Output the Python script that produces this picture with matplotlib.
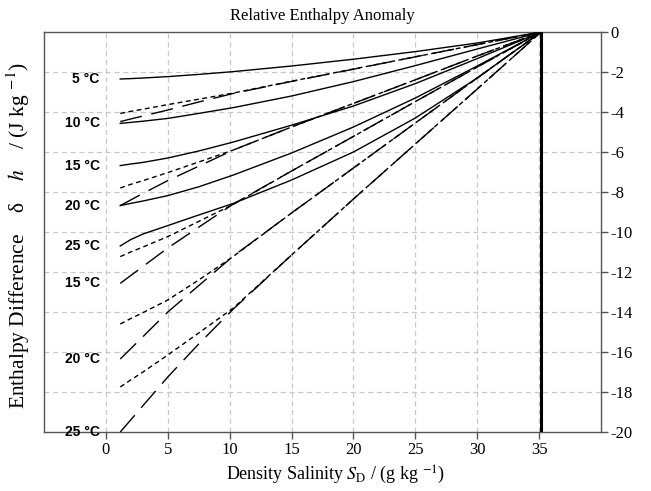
import matplotlib
matplotlib.use("Agg")
import matplotlib.pyplot as plt

plt.rcParams['axes.unicode_minus'] = False
plt.rcParams['mathtext.fontset'] = 'stix'

# Salinity sample points (g/kg)
S = [1.16, 2, 3, 5, 7.5, 10.3, 15, 20, 25, 30, 35.165]

# Solid curves (5, 10, 15, 20, 25 degC)
solid_5 = [-2.35, -2.33, -2.3, -2.23, -2.12, -1.98, -1.7, -1.36, -0.98, -0.55, 0]
solid_10 = [-4.57, -4.52, -4.46, -4.32, -4.07, -3.78, -3.2, -2.48, -1.68, -0.85, 0]
solid_15 = [-6.68, -6.6, -6.52, -6.3, -5.95, -5.5, -4.66, -3.7, -2.58, -1.33, 0]
solid_20 = [-8.68, -8.57, -8.45, -8.18, -7.74, -7.15, -6.05, -4.75, -3.3, -1.7, 0]
solid_25 = [-10.7, -10.38, -10.1, -9.68, -9.15, -8.57, -7.4, -6.0, -4.3, -2.3, 0]

# Long-dashed lines
long_5 = [-4.48, -4.35, -4.2, -3.9, -3.5, -3.07, -2.47, -1.86, -1.24, -0.63, 0]
long_10 = [-8.68, -8.4, -8.07, -7.43, -6.71, -5.9, -4.75, -3.57, -2.39, -1.2, 0]
long_15 = [-12.57, -12.18, -11.72, -10.8, -9.76, -8.6, -6.95, -5.22, -3.48, -1.75, 0]
long_20 = [-16.35, -15.84, -15.23, -14.0, -12.68, -11.2, -9.05, -6.8, -4.55, -2.3, 0]
long_25 = [-20.0, -19.4, -18.68, -17.25, -15.6, -13.85, -11.15, -8.35, -5.6, -2.85, 0]

# Short-dashed lines
short_5 = [-4.07, -3.97, -3.86, -3.63, -3.36, -3.05, -2.46, -1.85, -1.24, -0.63, 0]
short_10 = [-7.8, -7.62, -7.43, -7.03, -6.5, -5.9, -4.75, -3.57, -2.39, -1.2, 0]
short_15 = [-11.23, -11.0, -10.75, -10.23, -9.47, -8.62, -6.95, -5.22, -3.48, -1.75, 0]
short_20 = [-14.6, -14.33, -14.03, -13.4, -12.4, -11.22, -9.05, -6.8, -4.55, -2.3, 0]
short_25 = [-17.75, -17.4, -17.0, -16.15, -15.05, -13.8, -11.15, -8.35, -5.6, -2.85, 0]

label_text = ["5 °C", "10 °C", "15 °C", "20 °C", "25 °C", "15 °C", "20 °C", "25 °C"]
label_y = [-2.35, -4.57, -6.68, -8.68, -10.7, -12.57, -16.35, -20.0]

xticks = [0, 5, 10, 15, 20, 25, 30, 35]
yticks = [0, -2, -4, -6, -8, -10, -12, -14, -16, -18, -20]

fig = plt.figure(figsize=(6.51, 4.91), dpi=100)
ax = fig.add_axes([0.0676, 0.1202, 0.8556, 0.8146])

ax.set_xlim(-5, 40)
ax.set_ylim(-20, 0)

# grid
for xv in xticks:
    ax.plot([xv, xv], [-20, 0], color='#c8c8c8', lw=0.9, dashes=(4, 3), zorder=1)
for yv in yticks[1:-1]:
    ax.plot([-5, 40], [yv, yv], color='#c8c8c8', lw=0.9, dashes=(4, 3), zorder=1)

for ys in [solid_5, solid_10, solid_15, solid_20, solid_25]:
    ax.plot(S, ys, color='black', lw=1.0, zorder=3)
for ys in [long_5, long_10, long_15, long_20, long_25]:
    ax.plot(S, ys, color='black', lw=1.0, dashes=(16, 7), zorder=3)
for ys in [short_5, short_10, short_15, short_20, short_25]:
    ax.plot(S, ys, color='black', lw=1.0, dashes=(3.5, 2.5), zorder=3)

ax.plot([35.165, 35.165], [-20, 0], color='black', lw=2.2, zorder=4)

for t, yv in zip(label_text, label_y):
    ax.text(-0.5, yv, t, ha='right', va='center', fontsize=10, fontweight='bold',
            family='Liberation Sans', zorder=5)

for sp in ax.spines.values():
    sp.set_color('#555555')
    sp.set_linewidth(1.0)

ax.set_xticks(xticks)
ax.set_xticklabels([str(v) for v in xticks], family='Liberation Serif', fontsize=12)
ax.yaxis.tick_right()
ax.set_yticks(yticks)
ax.set_yticklabels([str(v) for v in yticks], family='Liberation Serif', fontsize=12)
ax.tick_params(axis='both', direction='out', length=5, color='#555555', width=1.0, pad=2)

ax.set_title("Relative Enthalpy Anomaly", family='Liberation Serif', fontsize=12, pad=9)
ax.set_xlabel(r"Density Salinity $S_\mathrm{D}$ / (g kg $^{-1}$)", family='Liberation Serif',
              fontsize=13, labelpad=4)
ax.xaxis.label.set_x(0.524)
fig.text(0.028, 0.521, r"Enthalpy Difference    δ    $h$    / (J kg $^{-1}$)", rotation=90,
         ha='center', va='center', family='Liberation Serif', fontsize=15.5)

fig.savefig("out.png", dpi=100)
